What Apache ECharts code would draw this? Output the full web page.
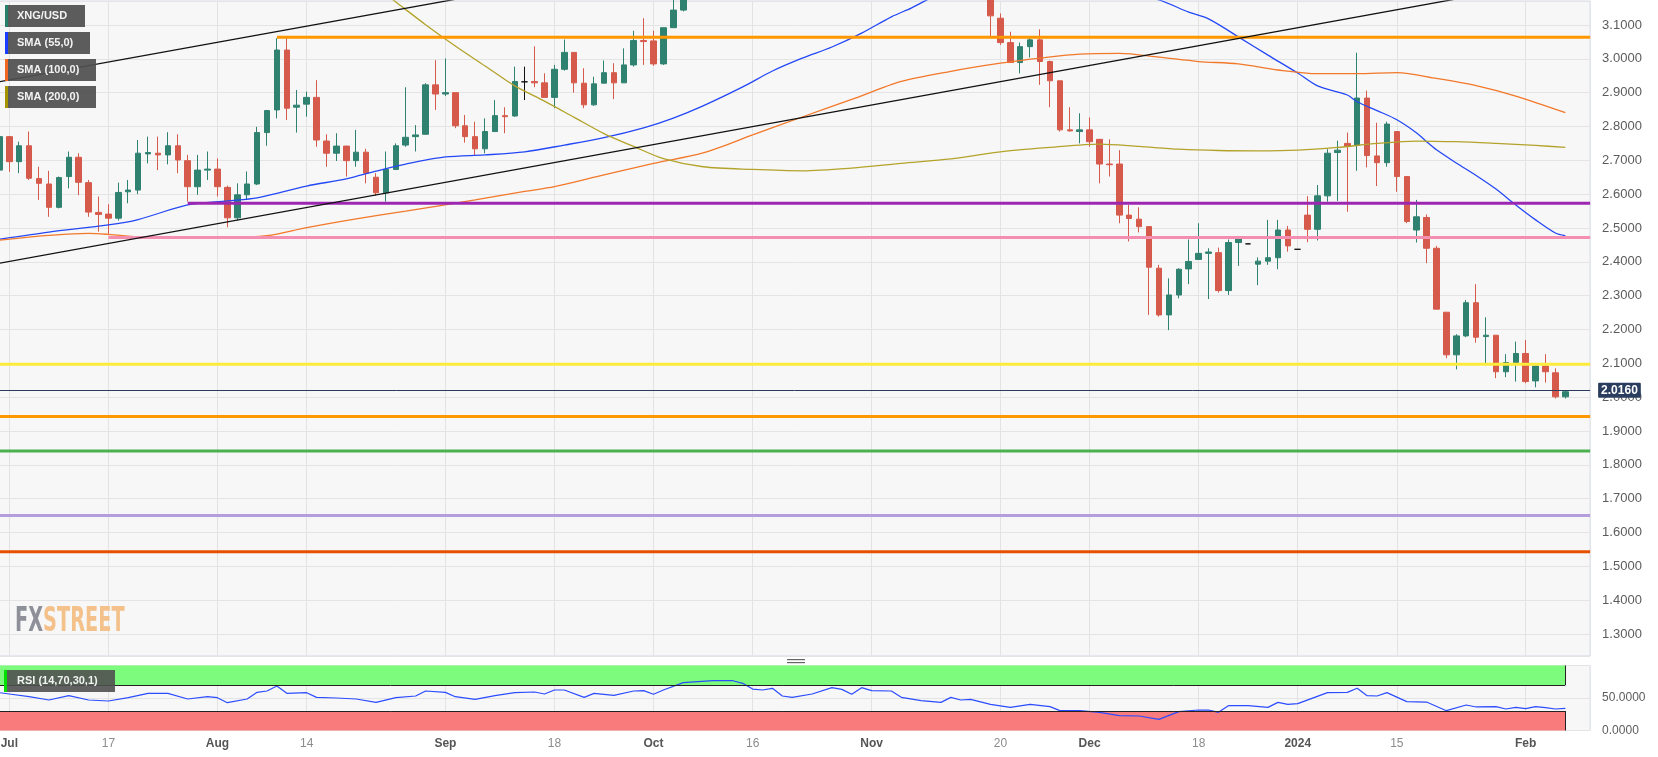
<!DOCTYPE html>
<html>
<head>
<meta charset="utf-8">
<title>XNG/USD</title>
<script src="https://cdn.jsdelivr.net/npm/echarts/dist/echarts.min.js"></script>
<style>
html,body{margin:0;padding:0;background:#ffffff;}
#chart{width:1658px;height:757px;}
</style>
</head>
<body>
<div id="chart"></div>
<script>
// ---------------- data ----------------
const FIRST_DAY = '2023-06-30';
const LAST_DAY = '2024-02-09';

// daily candles [open, close, low, high] starting 2023-06-30 (weekdays); null = above the visible range
const ohlc = [
  [2.671,2.770,2.637,2.814],
  [2.770,2.696,2.666,2.772],[2.696,2.743,2.662,2.755],[2.743,2.647,2.642,2.785],[2.646,2.632,2.583,2.681],[2.630,2.561,2.533,2.669],
  [2.561,2.649,2.558,2.652],[2.652,2.709,2.617,2.726],[2.709,2.635,2.597,2.721],[2.634,2.547,2.533,2.642],[2.546,2.540,2.489,2.593],
  [2.541,2.529,2.479,2.570],[2.529,2.605,2.522,2.634],[2.607,2.612,2.573,2.642],[2.612,2.721,2.600,2.760],[2.719,2.723,2.691,2.770],
  [2.721,2.716,2.671,2.770],[2.716,2.743,2.688,2.783],[2.743,2.701,2.662,2.777],[2.699,2.622,2.578,2.716],[2.622,2.671,2.598,2.716],
  [2.671,2.674,2.642,2.726],[2.674,2.622,2.593,2.706],[2.620,2.530,2.502,2.625],[2.530,2.598,2.522,2.632],[2.598,2.630,2.583,2.667],
  [2.630,2.782,2.627,2.799],[2.782,2.847,2.743,2.849],[2.849,3.026,2.824,3.061],[3.026,2.854,2.819,3.061],[2.857,2.863,2.782,2.908],
  [2.866,2.886,2.829,2.903],[2.886,2.760,2.740,2.937],[2.757,2.721,2.681,2.777],[2.721,2.742,2.698,2.780],[2.742,2.699,2.652,2.743],
  [2.699,2.724,2.681,2.790],[2.724,2.662,2.632,2.734],[2.650,2.604,2.595,2.662],[2.604,2.673,2.578,2.726],[2.673,2.743,2.671,2.750],
  [2.745,2.768,2.740,2.916],[2.770,2.775,2.726,2.804],[2.777,2.923,2.775,2.928],[2.923,2.896,2.849,2.996],[2.896,2.900,2.890,3.001],
  [2.900,2.802,2.795,2.900],[2.802,2.770,2.752,2.834],[2.770,2.734,2.716,2.814],[2.734,2.785,2.721,2.824],[2.785,2.832,2.785,2.878],
  [2.832,2.829,2.780,2.857],[2.831,2.933,2.829,2.977],[2.932,2.932,2.878,2.977],[2.933,2.929,2.916,3.037],[2.929,2.886,2.886,2.957],
  [2.886,2.969,2.854,2.982],[2.969,3.019,2.965,3.057],[3.019,2.929,2.900,3.019],[2.928,2.864,2.854,2.972],[2.864,2.926,2.861,2.947],
  [2.928,2.959,2.928,2.995],[2.959,2.929,2.881,2.987],[2.929,2.982,2.929,3.031],[2.982,3.054,2.977,3.083],[3.054,3.051,2.982,3.120],
  [3.053,2.985,2.979,3.083],[2.985,3.092,2.982,3.092],[3.092,3.144,3.092,3.190],[3.144,3.230,3.140,3.260],null,
  null,null,null,null,null,
  null,null,null,null,null,
  null,null,null,null,null,
  null,null,null,null,null,
  null,null,null,null,null,
  null,null,null,null,[3.200,3.127,3.067,3.230],
  [3.120,3.048,3.041,3.134],[3.048,2.989,2.989,3.080],[2.989,3.036,2.957,3.048],[3.036,3.056,3.004,3.064],[3.056,2.992,2.923,3.087],
  [2.992,2.935,2.857,2.995],[2.935,2.790,2.785,2.935],[2.790,2.787,2.785,2.857],[2.785,2.790,2.750,2.839],[2.790,2.755,2.740,2.827],
  [2.762,2.689,2.632,2.762],[2.689,2.687,2.652,2.762],[2.689,2.538,2.514,2.730],[2.538,2.528,2.460,2.568],[2.526,2.504,2.487,2.561],
  [2.504,2.384,2.243,2.504],[2.381,2.243,2.238,2.391],[2.243,2.302,2.198,2.351],[2.302,2.378,2.292,2.381],[2.379,2.401,2.334,2.466],
  [2.407,2.425,2.407,2.514],[2.425,2.429,2.290,2.440],[2.427,2.315,2.309,2.442],[2.315,2.457,2.302,2.466],[2.457,2.469,2.388,2.476],
  [2.453,2.453,2.453,2.453],[2.393,2.402,2.331,2.413],[2.402,2.412,2.391,2.524],[2.412,2.494,2.378,2.524],[2.494,2.447,2.430,2.506],
  [2.437,2.437,2.437,2.437],[2.538,2.496,2.458,2.594],[2.496,2.595,2.463,2.627],[2.595,2.721,2.578,2.733],[2.723,2.730,2.580,2.758],
  [2.750,2.742,2.548,2.782],[2.745,2.884,2.669,3.018],[2.884,2.714,2.679,2.906],[2.713,2.693,2.624,2.811],[2.693,2.807,2.681,2.814],
  [2.785,2.652,2.607,2.785],[2.652,2.519,2.514,2.652],[2.494,2.533,2.457,2.583],[2.531,2.440,2.396,2.540],[2.440,2.260,2.260,2.447],
  [2.251,2.125,2.115,2.251],[2.125,2.181,2.082,2.186],[2.181,2.279,2.177,2.287],[2.279,2.177,2.161,2.334],[2.179,2.183,2.100,2.236],
  [2.183,2.075,2.056,2.183],[2.075,2.102,2.059,2.127],[2.102,2.129,2.046,2.164],[2.129,2.046,2.041,2.169],[2.048,2.092,2.029,2.092],
  [2.092,2.075,2.043,2.127],[2.072,2.001,1.996,2.085],[2.001,2.016,1.996,2.021]
];

const sma55 = [
  ['2023-06-30',2.467],['2023-07-07',2.488],['2023-07-17',2.509],['2023-07-20',2.525],['2023-07-27',2.568],
  ['2023-08-02',2.580],['2023-08-07',2.589],['2023-08-14',2.624],['2023-08-18',2.645],['2023-08-23',2.668],
  ['2023-08-28',2.689],['2023-09-01',2.710],['2023-09-07',2.716],['2023-09-13',2.725],['2023-09-19',2.745],
  ['2023-09-25',2.767],['2023-09-29',2.796],['2023-10-04',2.825],['2023-10-09',2.861],['2023-10-13',2.917],
  ['2023-10-18',2.964],['2023-10-23',3.002],['2023-10-26',3.035],['2023-10-31',3.076],['2023-11-03',3.124],
  ['2023-11-07',3.150],['2023-11-13',3.205],['2023-11-22',3.225],['2023-12-06',3.200],['2023-12-12',3.174],
  ['2023-12-15',3.138],['2023-12-19',3.118],['2023-12-22',3.065],['2023-12-27',3.011],['2024-01-01',2.958],
  ['2024-01-03',2.920],['2024-01-08',2.893],['2024-01-09',2.873],['2024-01-11',2.847],['2024-01-15',2.820],
  ['2024-01-17',2.781],['2024-01-18',2.755],['2024-01-19',2.731],['2024-01-23',2.692],['2024-01-25',2.655],
  ['2024-01-29',2.615],['2024-01-31',2.568],['2024-02-02',2.524],['2024-02-06',2.485],['2024-02-07',2.477]
];
const sma100 = [
  ['2023-06-30',2.464],['2023-07-13',2.484],['2023-07-17',2.481],['2023-07-21',2.472],['2023-07-27',2.472],
  ['2023-08-02',2.472],['2023-08-08',2.477],['2023-08-14',2.501],['2023-08-21',2.527],['2023-08-28',2.550],
  ['2023-09-06',2.583],['2023-09-13',2.608],['2023-09-18',2.622],['2023-09-25',2.657],['2023-10-02',2.691],
  ['2023-10-09',2.722],['2023-10-16',2.775],['2023-10-23',2.828],['2023-10-30',2.880],['2023-11-06',2.933],
  ['2023-11-13',2.963],['2023-11-20',2.987],['2023-11-24',3.002],['2023-11-30',3.014],['2023-12-06',3.016],
  ['2023-12-12',3.005],['2023-12-18',2.992],['2023-12-22',2.985],['2023-12-28',2.967],['2024-01-03',2.956],
  ['2024-01-09',2.956],['2024-01-15',2.959],['2024-01-19',2.942],['2024-01-25',2.921],['2024-01-31',2.890],
  ['2024-02-07',2.841]
];
const sma200 = [
  ['2023-08-14',3.370],['2023-08-22',3.235],['2023-08-25',3.168],['2023-08-30',3.101],['2023-09-04',3.038],
  ['2023-09-07',2.979],['2023-09-12',2.920],['2023-09-15',2.875],['2023-09-20',2.827],['2023-09-25',2.779],
  ['2023-09-28',2.741],['2023-10-03',2.705],['2023-10-09',2.681],['2023-10-16',2.673],['2023-10-23',2.669],
  ['2023-10-30',2.677],['2023-11-06',2.691],['2023-11-13',2.704],['2023-11-20',2.725],['2023-11-27',2.738],
  ['2023-12-04',2.748],['2023-12-08',2.741],['2023-12-14',2.733],['2023-12-20',2.729],['2023-12-26',2.728],
  ['2024-01-01',2.730],['2024-01-05',2.738],['2024-01-11',2.750],['2024-01-17',2.757],['2024-01-23',2.755],
  ['2024-01-29',2.750],['2024-02-02',2.744],['2024-02-07',2.738]
];

const rsi14 = [
  ['2023-06-30',58.2],['2023-07-03',56.2],['2023-07-05',52.0],['2023-07-07',46.9],['2023-07-11',53.6],
  ['2023-07-13',46.9],['2023-07-17',45.4],['2023-07-19',50.5],['2023-07-21',57.2],['2023-07-25',57.2],
  ['2023-07-27',48.5],['2023-07-31',52.0],['2023-08-01',50.5],['2023-08-02',42.8],['2023-08-04',48.5],
  ['2023-08-07',58.7],['2023-08-08',60.8],['2023-08-09',68.5],['2023-08-10',57.2],['2023-08-14',58.2],
  ['2023-08-15',51.0],['2023-08-17',50.0],['2023-08-21',48.5],['2023-08-23',43.3],['2023-08-25',50.5],
  ['2023-08-29',53.1],['2023-08-30',60.8],['2023-09-01',58.7],['2023-09-04',52.0],['2023-09-06',47.9],
  ['2023-09-08',53.6],['2023-09-12',58.2],['2023-09-14',59.2],['2023-09-15',56.2],['2023-09-18',62.3],
  ['2023-09-19',62.3],['2023-09-21',51.0],['2023-09-22',57.2],['2023-09-26',54.1],['2023-09-28',60.8],
  ['2023-09-29',61.3],['2023-10-02',55.7],['2023-10-03',62.3],['2023-10-05',73.6],['2023-10-10',76.6],
  ['2023-10-12',76.6],['2023-10-13',72.6],['2023-10-16',63.8],['2023-10-17',62.3],['2023-10-18',64.9],
  ['2023-10-19',53.1],['2023-10-20',51.0],['2023-10-24',56.2],['2023-10-26',65.9],['2023-10-27',63.3],
  ['2023-10-30',55.7],['2023-10-31',65.9],['2023-11-01',61.3],['2023-11-03',60.8],['2023-11-06',51.0],
  ['2023-11-08',45.9],['2023-11-10',43.3],['2023-11-13',51.0],['2023-11-14',46.9],['2023-11-15',47.9],
  ['2023-11-17',40.3],['2023-11-21',35.6],['2023-11-23',40.3],['2023-11-27',36.7],['2023-11-28',30.5],
  ['2023-11-30',30.5],['2023-12-04',28.0],['2023-12-06',22.8],['2023-12-08',22.3],['2023-12-12',17.2],
  ['2023-12-14',29.0],['2023-12-18',31.5],['2023-12-19',31.5],['2023-12-20',28.0],['2023-12-21',38.2],
  ['2023-12-25',38.2],['2023-12-27',35.6],['2023-12-28',43.3],['2023-12-29',40.3],['2024-01-01',41.3],
  ['2024-01-04',58.2],['2024-01-08',58.7],['2024-01-09',64.9],['2024-01-10',53.6],['2024-01-11',53.1],
  ['2024-01-12',58.2],['2024-01-16',44.4],['2024-01-18',43.8],['2024-01-22',30.5],['2024-01-24',39.2],
  ['2024-01-25',36.2],['2024-01-29',36.7],['2024-01-30',33.1],['2024-01-31',35.6],['2024-02-01',33.6],
  ['2024-02-02',36.7],['2024-02-05',35.1],['2024-02-06',33.1],['2024-02-07',34.1]
];

const trendLower = [['2023-06-30',2.396],['2024-02-09',3.246]];
const trendUpper = [['2023-06-30',2.932],['2023-10-02',3.282]];

const levelValues = [3.064, 2.573, 2.472, 2.097, 1.943, 1.841, 1.650, 1.543];
const levelStarts = ['2023-08-09','2023-07-27','2023-07-17', null, null, null, null, null];
const lastPrice = 2.016;

const tickDates  = ['2023-07-03','2023-07-17','2023-08-01','2023-08-14','2023-09-01','2023-09-18','2023-10-02','2023-10-16','2023-11-01','2023-11-20','2023-12-01','2023-12-18','2024-01-01','2024-01-15','2024-02-01'];
const tickLabels = ['Jul','17','Aug','14','Sep','18','Oct','16','Nov','20','Dec','18','2024','15','Feb'];

const rsiUpper = [70, 100];
const rsiLower = [0, 30];

// ---------------- build ----------------
function weekdays(a, b) {
  const out = [];
  let t = Date.parse(a + 'T00:00:00Z');
  const end = Date.parse(b + 'T00:00:00Z');
  while (t <= end) {
    const d = new Date(t);
    const wd = d.getUTCDay();
    if (wd !== 0 && wd !== 6) out.push(d.toISOString().slice(0, 10));
    t += 86400000;
  }
  return out;
}
const categories = weekdays(FIRST_DAY, LAST_DAY);
const N = categories.length;
const XMIN = -0.5, XMAX = N - 0.5;
const xIndex = d => categories.indexOf(d);
const lastCandleDay = categories[ohlc.length - 1];

const labelMap = {};
tickDates.forEach((d, i) => labelMap[d] = tickLabels[i]);
const isTick = (idx, val) => labelMap[val] !== undefined;

const candleData = categories.map((d, i) => ohlc[i] ? ohlc[i] : ['-', '-', '-', '-']);
const toXY = arr => arr.map(([d, v]) => [xIndex(d), v]);

const levelColors = ['#ff9800', '#9c27b0', '#f48fb1', '#ffeb3b', '#ff9800', '#4caf50', '#b39ddb', '#e65100'];

const BAND = 9.911;
const GRID_LEFT = -5.56;
const GRID_WIDTH = N * BAND;
const FONT = '"Liberation Sans", Arial, sans-serif';

const splitLineX = {
  show: true, interval: isTick, alignWithLabel: true,
  lineStyle: { color: '#e3e3e3', width: 1 }
};

const series = [];
series.push({
  type: 'candlestick', name: 'XNG/USD', xAxisIndex: 0, yAxisIndex: 0,
  data: candleData, barWidth: 6, z: 2, clip: true,
  itemStyle: {
    color: '#2f8170', color0: '#d65a4b',
    borderColor: '#2f8170', borderColor0: '#d65a4b', borderColorDoji: '#111111', borderWidth: 1
  },
  markLine: {
    silent: true, symbol: 'none', animation: false,
    data: [{ yAxis: lastPrice }],
    lineStyle: { color: '#2b3b5c', width: 1, type: 'solid' },
    label: {
      show: true, position: 'end', distance: 8,
      formatter: () => lastPrice.toFixed(4),
      backgroundColor: '#2b3d5e', color: '#ffffff', fontWeight: 'bold', fontSize: 12,
      fontFamily: FONT, padding: [2, 3, 1, 3], borderRadius: 1
    }
  }
});

levelValues.forEach((v, i) => {
  series.push({
    type: 'line', xAxisIndex: 1, yAxisIndex: 0, silent: true, symbol: 'none', z: 4,
    data: [[levelStarts[i] ? xIndex(levelStarts[i]) : XMIN, v], [XMAX, v]],
    lineStyle: { color: levelColors[i], width: 3 }
  });
});

[trendLower, trendUpper].forEach(t => {
  series.push({
    type: 'line', xAxisIndex: 1, yAxisIndex: 0, silent: true, symbol: 'none', z: 4, clip: true,
    data: toXY(t), lineStyle: { color: '#111111', width: 1.3 }
  });
});

[[sma55, '#2448f5'], [sma100, '#f2782a'], [sma200, '#b3a32a']].forEach(([arr, col]) => {
  series.push({
    type: 'line', xAxisIndex: 1, yAxisIndex: 0, silent: true, symbol: 'none', z: 3, clip: true,
    smooth: 0.3, data: toXY(arr), lineStyle: { color: col, width: 1.3 }
  });
});

const bandEnd = xIndex(lastCandleDay);
series.push({
  type: 'line', xAxisIndex: 3, yAxisIndex: 1, silent: true, symbol: 'none', z: 3,
  data: toXY(rsi14), lineStyle: { color: '#2c4cff', width: 1.2 },
  markArea: {
    silent: true,
    data: [
      [{ xAxis: XMIN, yAxis: rsiUpper[0], itemStyle: { color: '#7dfb7d', opacity: 1 } }, { xAxis: bandEnd, yAxis: rsiUpper[1] }],
      [{ xAxis: XMIN, yAxis: rsiLower[0], itemStyle: { color: '#fa7b7b', opacity: 1 } }, { xAxis: bandEnd, yAxis: rsiLower[1] }]
    ]
  },
  markLine: {
    silent: true, symbol: 'none', label: { show: false },
    lineStyle: { color: '#222222', width: 1, type: 'solid' },
    data: [
      [{ xAxis: XMIN, yAxis: rsiUpper[0] }, { xAxis: bandEnd, yAxis: rsiUpper[0] }],
      [{ xAxis: XMIN, yAxis: rsiLower[1] }, { xAxis: bandEnd, yAxis: rsiLower[1] }],
      [{ xAxis: bandEnd, yAxis: rsiUpper[0] }, { xAxis: bandEnd, yAxis: rsiUpper[1] }],
      [{ xAxis: bandEnd, yAxis: rsiLower[0] }, { xAxis: bandEnd, yAxis: rsiLower[1] }]
    ]
  }
});

// legend boxes (drawn above everything)
const TOPZ = 200;
const legendItems = [
  ['XNG/USD', '#26806a', 80],
  ['SMA (55,0)', '#1a3cff', 85],
  ['SMA (100,0)', '#f26722', 91],
  ['SMA (200,0)', '#a39400', 91]
];
const graphics = legendItems.map((it, i) => ({
  type: 'group', x: 5, y: 5 + 27 * i, z: TOPZ,
  children: [
    { type: 'rect', z: TOPZ, shape: { x: 0, y: 0, width: it[2], height: 22 }, style: { fill: 'rgba(80,80,80,0.93)' } },
    { type: 'rect', z: TOPZ + 1, shape: { x: 0, y: 0, width: 3, height: 22 }, style: { fill: it[1] } },
    { type: 'text', z: TOPZ + 2, x: 12, y: 11, style: { text: it[0], fill: '#f2f2f2', font: 'bold 11px ' + FONT, verticalAlign: 'middle' } }
  ]
}));
graphics.push({
  type: 'group', x: 4, y: 670, z: TOPZ,
  children: [
    { type: 'rect', z: TOPZ, shape: { x: 0, y: 0, width: 111, height: 22 }, style: { fill: 'rgba(80,80,80,0.9)' } },
    { type: 'rect', z: TOPZ + 1, shape: { x: 0, y: 0, width: 3, height: 22 }, style: { fill: '#00e000' } },
    { type: 'text', z: TOPZ + 2, x: 13, y: 11, style: { text: 'RSI (14,70,30,1)', fill: '#f2f2f2', font: 'bold 11px ' + FONT, verticalAlign: 'middle' } }
  ]
});
graphics.push({
  type: 'group', x: 787, y: 659, z: TOPZ,
  children: [
    { type: 'rect', z: TOPZ, shape: { x: 0, y: 0, width: 18, height: 1.2 }, style: { fill: '#666' } },
    { type: 'rect', z: TOPZ, shape: { x: 0, y: 3, width: 18, height: 1.2 }, style: { fill: '#666' } }
  ]
});
graphics.push({
  type: 'text', x: 15, y: 622, scaleX: 0.585, z: 1,
  style: {
    text: '{a|FX}{b|STREET}', font: 'bold 33px "DejaVu Sans", sans-serif', verticalAlign: 'middle',
    rich: {
      a: { fill: '#8e9099', font: 'bold 33px "DejaVu Sans", sans-serif' },
      b: { fill: '#f3c189', font: 'bold 33px "DejaVu Sans", sans-serif' }
    }
  }
});

const option = {
  animation: false,
  backgroundColor: '#ffffff',
  textStyle: { fontFamily: FONT },
  grid: [
    { left: GRID_LEFT, top: 1, width: GRID_WIDTH, height: 655, show: true,
      backgroundColor: '#f7f7f7', borderColor: '#d3d8e4', borderWidth: 1, outerBoundsMode: 'none', containLabel: false },
    { left: GRID_LEFT, top: 665.5, width: GRID_WIDTH, height: 65, show: true,
      backgroundColor: '#f7f7f7', borderColor: '#d3d8e4', borderWidth: 1, outerBoundsMode: 'none', containLabel: false }
  ],
  xAxis: [
    { type: 'category', gridIndex: 0, data: categories, boundaryGap: true,
      axisLine: { show: false }, axisTick: { show: false }, axisLabel: { show: false }, splitLine: splitLineX },
    { type: 'value', gridIndex: 0, min: XMIN, max: XMAX, show: false },
    { type: 'category', gridIndex: 1, data: categories, boundaryGap: true,
      axisLine: { show: false }, axisTick: { show: false }, splitLine: splitLineX,
      axisLabel: {
        interval: isTick, margin: 7, hideOverlap: false,
        formatter: v => {
          const t = labelMap[v];
          if (t === undefined) return '';
          return /^[0-9]{1,2}$/.test(t) ? '{d|' + t + '}' : '{m|' + t + '}';
        },
        rich: {
          m: { fontWeight: 'bold', color: '#555555', fontSize: 12, fontFamily: FONT },
          d: { color: '#8c8c8c', fontSize: 12, fontFamily: FONT }
        }
      } },
    { type: 'value', gridIndex: 1, min: XMIN, max: XMAX, show: false }
  ],
  yAxis: [
    { type: 'value', gridIndex: 0, position: 'right', min: 1.2348, max: 3.1709,
      splitNumber: 19, minInterval: 0.1, maxInterval: 0.1,
      axisLine: { show: false }, axisTick: { show: false },
      axisLabel: { margin: 12, color: '#5c5c5c', fontSize: 13, fontFamily: FONT, showMinLabel: false, showMaxLabel: false,
        formatter: v => v.toFixed(4) },
      splitLine: { show: true, lineStyle: { color: '#e4e4e4', width: 1 } } },
    { type: 'value', gridIndex: 1, position: 'right', min: 0, max: 100, interval: 50,
      axisLine: { show: false }, axisTick: { show: false },
      axisLabel: { margin: 12, color: '#5c5c5c', fontSize: 12, fontFamily: FONT,
        formatter: v => v === 100 ? '' : v.toFixed(4) },
      splitLine: { show: true, lineStyle: { color: '#e4e4e4', width: 1 } } }
  ],
  graphic: { elements: graphics },
  series: series
};

const chart = echarts.init(document.getElementById('chart'), null, { renderer: 'canvas' });
chart.setOption(option);
</script>
</body>
</html>
